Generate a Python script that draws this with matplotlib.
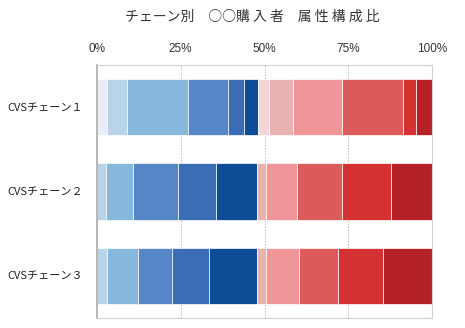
import numpy as np
import matplotlib.pyplot as plt

plt.rcParams['font.family'] = ['Noto Sans CJK JP', 'DejaVu Sans']

chains = ['CVSチェーン１', 'CVSチェーン２', 'CVSチェーン３']

# share of buyers per attribute group (%), one list per segment, per chain
blue0 = [3.2, 0.0, 0.0]
blue1 = [5.9, 2.8, 3.2]
blue2 = [18.0, 8.0, 9.2]
blue3 = [12.1, 13.5, 10.0]
blue4 = [4.8, 11.2, 11.1]
blue5 = [4.0, 12.4, 14.4]
red0 = [3.2, 0.0, 0.0]
red1 = [7.2, 2.5, 2.5]
red2 = [14.8, 9.4, 9.9]
red3 = [18.0, 13.2, 11.6]
red4 = [4.0, 14.7, 13.4]
red5 = [4.8, 12.3, 14.7]

segments = [blue0, blue1, blue2, blue3, blue4, blue5,
            red0, red1, red2, red3, red4, red5]
colors = ['#e8eef8', '#b9d4ea', '#86b8dc', '#5587c7', '#3a6db3', '#0d4d97',
          '#f3d5d7', '#e9b1b1', '#f09698', '#dc5a5a', '#d43232', '#b42126']

fig = plt.figure(figsize=(4.65, 3.28), dpi=100)
ax = fig.add_axes([0.208, 0.0305, 0.7217, 0.7713])

y = np.arange(len(chains))
left = np.zeros(len(chains))
for vals, c in zip(segments, colors):
    vals = np.array(vals)
    ax.barh(y, vals, left=left, height=0.667, color=c,
            edgecolor='white', linewidth=0.5, zorder=2)
    left += vals

ax.set_xlim(0, 100)
ax.set_ylim(2.5, -0.5)
ax.set_xticks([0, 25, 50, 75, 100])
ax.set_xticklabels(['0%', '25%', '50%', '75%', '100%'], family='Liberation Sans')
ax.xaxis.tick_top()
ax.tick_params(axis='x', length=0, pad=7, labelsize=8.5, labelcolor='#333333')
ax.tick_params(axis='y', length=0, pad=10, labelsize=8, labelcolor='#222222')
ax.set_yticks(y)
ax.set_yticklabels(chains)

for x in [25, 50, 75]:
    ax.axvline(x, color='#bbbbbb', linestyle=(0, (1.5, 1.5)), linewidth=0.7, zorder=1)
for s in ax.spines.values():
    s.set_color('#d0d0d0')
    s.set_linewidth(0.8)
ax.spines['left'].set_color('#aaaaaa')
ax.spines['left'].set_linewidth(1.2)

fig.text(252 / 465, 1 - 17 / 328, 'チェーン別　○○購 入 者　属 性 構 成 比',
         ha='center', va='center', fontsize=10, color='#333333')

fig.savefig('out.png', dpi=100)
